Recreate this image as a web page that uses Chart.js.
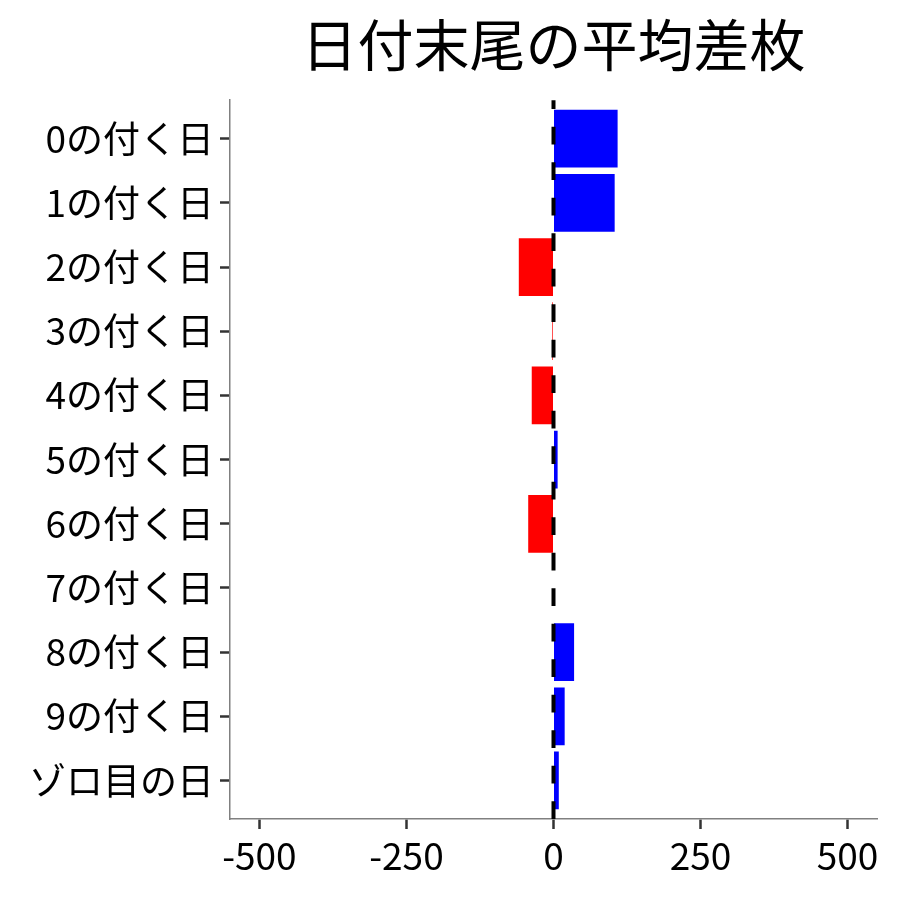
<!DOCTYPE html>
<html lang="ja">
<head>
<meta charset="utf-8">
<title>日付末尾の平均差枚</title>
<script src="https://cdn.jsdelivr.net/npm/chart.js@4.4.1/dist/chart.umd.min.js"></script>
<style>
  html, body { margin: 0; padding: 0; background: #fff; }
  #wrap { width: 900px; height: 900px; }
</style>
</head>
<body>
<div id="wrap"><canvas id="chart" width="900" height="900"></canvas></div>
<script>
// --- datos ---
const categories = [
  "0の付く日", "1の付く日", "2の付く日", "3の付く日", "4の付く日",
  "5の付く日", "6の付く日", "7の付く日", "8の付く日", "9の付く日",
  "ゾロ目の日",
];
const avgDiff = [109, 104, -59, -2, -37, 7, -43, 0, 35, 19, 9];
const xTicks = [-500, -250, 0, 250, 500];
const xLimits = [-550, 550];

const FONT = '"Noto Sans CJK JP", "Noto Sans", sans-serif';

// linea discontinua en x = 0
const zeroLine = {
  id: "zeroLine",
  afterDatasetsDraw(chart) {
    const { ctx, chartArea } = chart;
    const x = chart.scales.x.getPixelForValue(0);
    ctx.save();
    ctx.strokeStyle = "#000";
    ctx.lineWidth = 4;
    ctx.setLineDash([17.75, 17.75]);
    ctx.beginPath();
    ctx.moveTo(x, chartArea.bottom);
    ctx.lineTo(x, chartArea.top);
    ctx.stroke();
    ctx.restore();
  },
};

// centrar el título sobre el panel
const titleOnPanel = {
  id: "titleOnPanel",
  afterLayout(chart) {
    const t = chart.titleBlock;
    if (t) {
      t.left = chart.chartArea.left;
      t.right = chart.chartArea.right;
    }
  },
};

new Chart(document.getElementById("chart"), {
  type: "bar",
  data: {
    labels: categories,
    datasets: [
      {
        data: avgDiff,
        backgroundColor: avgDiff.map((v) => (v < 0 ? "#FF0000" : "#0000FF")),
        borderWidth: 0,
        barPercentage: 0.9,
        categoryPercentage: 1.0,
      },
    ],
  },
  options: {
    indexAxis: "y",
    responsive: false,
    animation: false,
    devicePixelRatio: 1,
    layout: { padding: { right: 23, left: 0, top: 0, bottom: 0 } },
    plugins: {
      legend: { display: false },
      tooltip: { enabled: false },
      title: {
        display: true,
        text: "日付末尾の平均差枚",
        color: "#000",
        font: { family: FONT, size: 56, weight: "normal", lineHeight: 1.2 },
        padding: { top: 11, bottom: 22 },
      },
    },
    scales: {
      x: {
        type: "linear",
        min: xLimits[0],
        max: xLimits[1],
        afterBuildTicks: (scale) => {
          scale.ticks = xTicks.map((v) => ({ value: v }));
        },
        afterFit: (scale) => {
          scale.height = 81;
        },
        ticks: {
          color: "#000",
          font: { family: FONT, size: 37 },
          padding: 5,
          maxRotation: 0,
        },
        grid: {
          display: true,
          drawOnChartArea: false,
          drawTicks: true,
          tickLength: 10,
          tickColor: "#333",
          tickWidth: 2.5,
        },
        border: { display: true, color: "#808080", width: 1.5 },
      },
      y: {
        type: "category",
        offset: true,
        afterBuildTicks: (scale) => {
          // expansión discreta de 0.6 por lado
          const n = scale.getLabels().length;
          scale._startValue = scale.min - 0.6;
          scale._valueRange = n - 1 + 1.2;
        },
        afterFit: (scale) => {
          scale.width = 230;
        },
        ticks: {
          color: "#000",
          font: { family: FONT, size: 37 },
          padding: 6,
        },
        grid: {
          display: true,
          offset: false,
          drawOnChartArea: false,
          drawTicks: true,
          tickLength: 10,
          tickColor: "#333",
          tickWidth: 2.5,
        },
        border: { display: true, color: "#808080", width: 1.5 },
      },
    },
  },
  plugins: [zeroLine, titleOnPanel],
});
</script>
</body>
</html>
